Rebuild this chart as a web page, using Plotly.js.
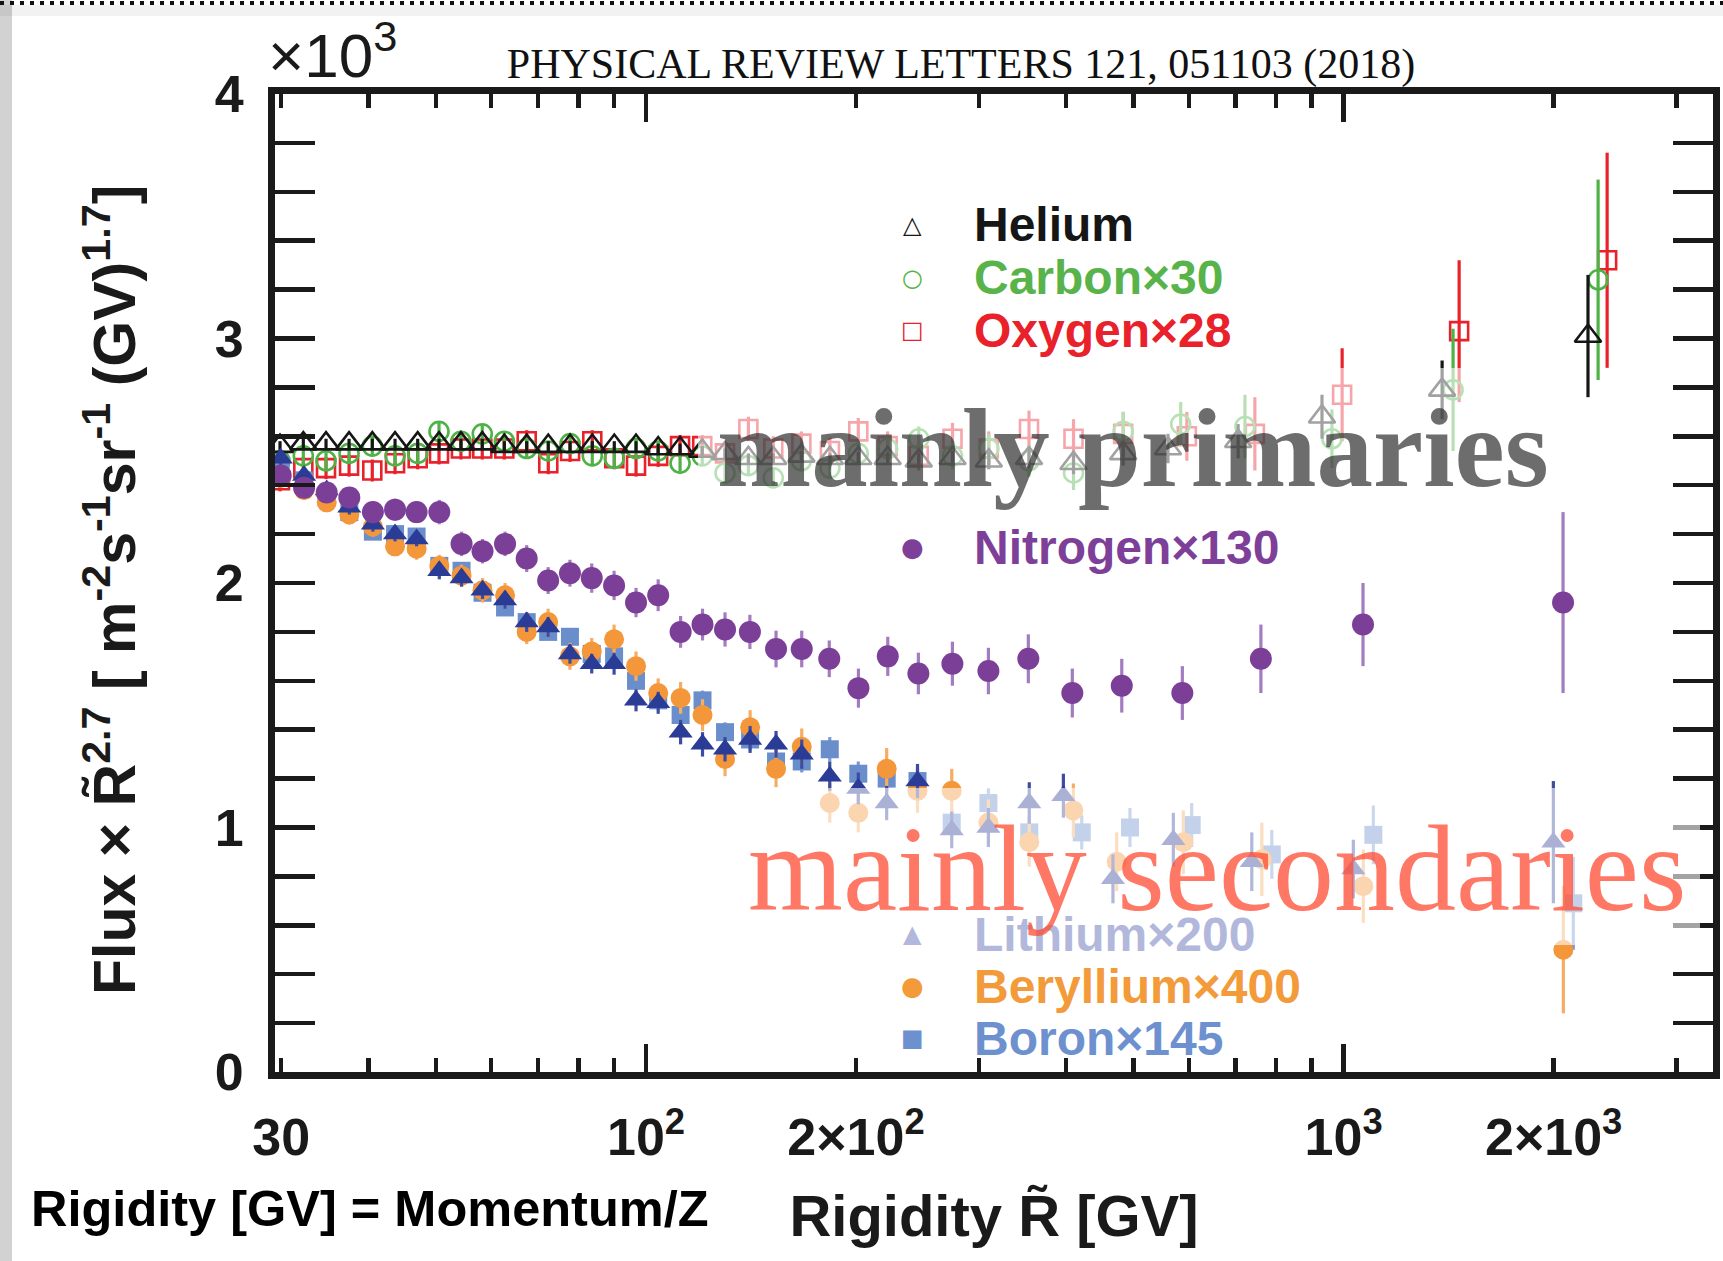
<!DOCTYPE html>
<html>
<head>
<meta charset="utf-8">
<script src="https://cdn.plot.ly/plotly-3.0.1.min.js"></script>
<style>
  html, body { margin: 0; padding: 0; background: #ffffff; }
  #chart { width: 1723px; height: 1261px; }
</style>
</head>
<body>
<div id="chart"></div>
<script>
// Flux x R^2.7 in units of 10^3, AMS rigidity spectra (PRL 121, 051103)

// Helium
const heliumR = [29.88, 32.27, 34.78, 37.53, 40.52, 43.68, 47.07, 50.50, 54.29, 58.25, 62.65, 67.45, 72.43, 77.83, 83.75, 90.06, 96.76, 104.1, 111.9, 120.4, 129.8, 140.2, 152.2, 167.0, 183.5, 201.5, 222.0, 246.0, 275.0, 310.0, 354.0, 410.0, 483.0, 560.0, 706.0, 931.0, 1384.0, 2240.0];
const heliumFlux = [2.56, 2.57, 2.57, 2.57, 2.57, 2.57, 2.57, 2.57, 2.57, 2.57, 2.56, 2.56, 2.56, 2.56, 2.56, 2.56, 2.56, 2.55, 2.55, 2.54, 2.53, 2.51, 2.51, 2.52, 2.51, 2.51, 2.51, 2.50, 2.51, 2.50, 2.51, 2.49, 2.53, 2.55, 2.58, 2.68, 2.79, 3.01];
const heliumErr = [0.02, 0.02, 0.02, 0.02, 0.02, 0.02, 0.02, 0.02, 0.02, 0.02, 0.02, 0.02, 0.02, 0.02, 0.02, 0.02, 0.02, 0.02, 0.02, 0.02, 0.02, 0.02, 0.02, 0.02, 0.02, 0.025, 0.025, 0.03, 0.03, 0.035, 0.04, 0.045, 0.05, 0.06, 0.07, 0.09, 0.12, 0.25];

// Carbon x30
const carbonR = [29.88, 32.27, 34.78, 37.53, 40.52, 43.68, 47.07, 50.50, 54.29, 58.25, 62.65, 67.45, 72.43, 77.83, 83.75, 90.06, 96.76, 104.1, 111.9, 120.4, 129.8, 140.2, 152.2, 167.0, 183.5, 201.5, 222.0, 246.0, 275.0, 310.0, 354.0, 410.0, 483.0, 584.0, 722.0, 962.0, 1435.0, 2316.0];
const carbonFlux = [2.50, 2.52, 2.50, 2.53, 2.56, 2.52, 2.53, 2.62, 2.58, 2.61, 2.58, 2.55, 2.54, 2.57, 2.52, 2.51, 2.55, 2.54, 2.49, 2.52, 2.45, 2.48, 2.43, 2.50, 2.47, 2.53, 2.55, 2.59, 2.52, 2.55, 2.50, 2.45, 2.62, 2.65, 2.64, 2.59, 2.79, 3.24];
const carbonErr = [0.035, 0.035, 0.035, 0.035, 0.035, 0.035, 0.035, 0.035, 0.035, 0.035, 0.035, 0.035, 0.035, 0.035, 0.035, 0.035, 0.035, 0.035, 0.035, 0.035, 0.035, 0.04, 0.04, 0.04, 0.045, 0.045, 0.05, 0.05, 0.055, 0.06, 0.065, 0.07, 0.08, 0.09, 0.13, 0.12, 0.25, 0.41];

// Oxygen x28
const oxygenR = [29.88, 32.27, 34.78, 37.53, 40.52, 43.68, 47.07, 50.50, 54.29, 58.25, 62.65, 67.45, 72.43, 77.83, 83.75, 90.06, 96.76, 104.1, 111.9, 120.4, 129.8, 140.2, 152.2, 167.0, 183.5, 201.5, 222.0, 246.0, 275.0, 310.0, 354.0, 410.0, 483.0, 596.0, 746.0, 995.0, 1464.0, 2386.0];
const oxygenFlux = [2.42, 2.47, 2.47, 2.48, 2.46, 2.49, 2.51, 2.53, 2.55, 2.55, 2.55, 2.58, 2.49, 2.54, 2.58, 2.51, 2.48, 2.52, 2.56, 2.56, 2.53, 2.63, 2.55, 2.57, 2.54, 2.62, 2.56, 2.52, 2.59, 2.55, 2.63, 2.59, 2.61, 2.60, 2.61, 2.77, 3.03, 3.32];
const oxygenErr = [0.045, 0.045, 0.045, 0.045, 0.045, 0.045, 0.045, 0.045, 0.045, 0.045, 0.045, 0.045, 0.045, 0.045, 0.045, 0.045, 0.045, 0.045, 0.045, 0.045, 0.045, 0.05, 0.05, 0.05, 0.055, 0.055, 0.06, 0.06, 0.065, 0.07, 0.075, 0.08, 0.09, 0.10, 0.15, 0.19, 0.29, 0.44];

// Nitrogen x130
const nitrogenR = [29.95, 32.35, 34.86, 37.56, 40.6, 43.68, 46.9, 50.55, 54.4, 58.3, 62.8, 67.45, 72.4, 77.8, 83.6, 90.0, 96.76, 104.1, 112.1, 120.5, 129.8, 140.9, 153.6, 167.2, 183.1, 201.6, 222.1, 245.7, 274.9, 309.6, 353.2, 408.4, 480.8, 587.2, 761.0, 1066.0, 2063.0];
const nitrogenFlux = [2.44, 2.39, 2.37, 2.35, 2.29, 2.30, 2.29, 2.29, 2.16, 2.13, 2.16, 2.10, 2.01, 2.04, 2.02, 1.99, 1.92, 1.95, 1.80, 1.83, 1.81, 1.80, 1.73, 1.73, 1.69, 1.57, 1.70, 1.63, 1.67, 1.64, 1.69, 1.55, 1.58, 1.55, 1.69, 1.83, 1.92];
const nitrogenErr = [0.04, 0.04, 0.04, 0.04, 0.045, 0.045, 0.045, 0.05, 0.05, 0.05, 0.05, 0.055, 0.055, 0.055, 0.06, 0.06, 0.06, 0.065, 0.065, 0.065, 0.07, 0.07, 0.075, 0.075, 0.075, 0.08, 0.08, 0.085, 0.09, 0.095, 0.10, 0.10, 0.11, 0.11, 0.14, 0.17, 0.37];

// Lithium x200
const lithiumR = [29.95, 32.35, 34.86, 37.56, 40.6, 43.68, 46.9, 50.55, 54.4, 58.3, 62.8, 67.45, 72.4, 77.8, 83.6, 90.0, 96.76, 104.1, 112.1, 120.5, 129.8, 141.0, 153.6, 167.2, 183.4, 201.5, 221.3, 245.0, 274.3, 309.6, 354.3, 396.5, 467.0, 570.0, 738.5, 1032.5, 1998.0];
const lithiumFlux = [2.51, 2.44, 2.38, 2.31, 2.24, 2.20, 2.18, 2.05, 2.02, 1.97, 1.93, 1.84, 1.82, 1.71, 1.67, 1.67, 1.52, 1.51, 1.39, 1.34, 1.32, 1.36, 1.34, 1.30, 1.21, 1.16, 1.10, 1.19, 0.99, 1.00, 1.10, 1.13, 0.79, 0.95, 0.86, 0.83, 0.94];
const lithiumErr = [0.03, 0.03, 0.03, 0.03, 0.03, 0.03, 0.03, 0.035, 0.035, 0.035, 0.035, 0.04, 0.04, 0.04, 0.04, 0.045, 0.045, 0.045, 0.05, 0.05, 0.05, 0.055, 0.055, 0.06, 0.06, 0.065, 0.07, 0.07, 0.075, 0.08, 0.085, 0.09, 0.10, 0.11, 0.12, 0.12, 0.25];

// Beryllium x400
const berylliumR = [29.95, 32.35, 34.86, 37.56, 40.6, 43.68, 46.9, 50.55, 54.4, 58.3, 62.8, 67.45, 72.4, 77.8, 83.6, 90.0, 96.76, 104.1, 112.1, 120.5, 129.8, 141.0, 153.6, 167.2, 183.4, 201.5, 221.3, 245.0, 274.3, 309.6, 354.3, 409.8, 472.8, 589.1, 763.3, 1067.0, 2065.0];
const berylliumFlux = [2.43, 2.38, 2.33, 2.28, 2.23, 2.15, 2.14, 2.07, 2.03, 1.97, 1.95, 1.80, 1.84, 1.70, 1.72, 1.77, 1.66, 1.55, 1.53, 1.46, 1.28, 1.41, 1.24, 1.33, 1.10, 1.06, 1.24, 1.15, 1.15, 1.02, 0.94, 1.07, 0.86, 0.94, 0.87, 0.76, 0.50];
const berylliumErr = [0.04, 0.04, 0.04, 0.04, 0.04, 0.04, 0.045, 0.045, 0.045, 0.05, 0.05, 0.05, 0.055, 0.055, 0.055, 0.06, 0.06, 0.06, 0.065, 0.065, 0.07, 0.07, 0.075, 0.075, 0.08, 0.08, 0.085, 0.09, 0.09, 0.095, 0.10, 0.11, 0.12, 0.13, 0.15, 0.15, 0.26];

// Boron x145
const boronR = [29.95, 32.35, 34.86, 37.56, 40.6, 43.68, 46.9, 50.55, 54.4, 58.3, 62.8, 67.45, 72.4, 77.8, 83.6, 90.0, 96.76, 104.1, 112.1, 120.5, 129.8, 141.0, 153.6, 167.2, 183.4, 201.5, 221.3, 245.0, 274.3, 309.6, 354.3, 421.3, 494.0, 605.6, 788.9, 1103.0, 2134.0];
const boronFlux = [2.48, 2.42, 2.35, 2.29, 2.21, 2.20, 2.19, 2.07, 2.05, 1.96, 1.90, 1.84, 1.80, 1.78, 1.71, 1.70, 1.60, 1.52, 1.46, 1.52, 1.39, 1.36, 1.27, 1.27, 1.32, 1.22, 1.20, 1.19, 1.02, 1.10, 0.98, 0.98, 1.00, 1.01, 0.89, 0.97, 0.69];
const boronErr = [0.025, 0.025, 0.025, 0.025, 0.025, 0.025, 0.025, 0.03, 0.03, 0.03, 0.03, 0.03, 0.03, 0.035, 0.035, 0.035, 0.035, 0.04, 0.04, 0.04, 0.04, 0.045, 0.045, 0.045, 0.05, 0.05, 0.05, 0.055, 0.055, 0.06, 0.065, 0.07, 0.08, 0.09, 0.10, 0.12, 0.19];

// Axis ticks and labels
const xTickVals = [30, 100, 200, 1000, 2000];
const xTickText = ['30', '10<sup>2</sup>', '2×10<sup>2</sup>', '10<sup>3</sup>', '2×10<sup>3</sup>'];
const xDecadeTicks = [100, 1000];
const yTickVals = [0, 1, 2, 3, 4];

// Legend entries: [glyph, label, colour]
const legendTop = [
  ['△', 'Helium', '#161616'],
  ['○', 'Carbon×30', '#58b34a'],
  ['□', 'Oxygen×28', '#e8212b']
];
const legendMid = [['●', 'Nitrogen×130', '#7d3f98']];
const legendBottom = [
  ['▲', 'Lithium×200', '#b2b8dc'],
  ['●', 'Beryllium×400', '#f39a3a'],
  ['■', 'Boron×145', '#6d90cf']
];

// ---------- geometry of the page ----------
const W = 1723, H = 1261;
const plotL = 275, plotR = 1713, plotT = 94, plotB = 1072;
const px = x => (x - plotL) / (plotR - plotL);
const py = y => (plotB - y) / (plotB - plotT);
const xRange = [Math.log10(29.39), Math.log10(3384)];
const ink = '#1a1a1a';
const sans = 'Liberation Sans, Arial, sans-serif';
const serif = 'Liberation Serif, Times New Roman, serif';

function series(R, F, E, symbol, size, color, errColor, open) {
  return {
    type: 'scatter', mode: 'markers', x: R, y: F,
    marker: {
      symbol: symbol, size: size, color: color,
      line: open ? { width: 2.6, color: color } : { width: 0 }
    },
    error_y: { type: 'data', array: E, visible: true, thickness: 3.2, width: 0, color: errColor },
    showlegend: false, hoverinfo: 'skip', cliponaxis: true
  };
}

const traces = [
  series(oxygenR, oxygenFlux, oxygenErr, 'square-open', 18, '#e8212b', '#e8212b', true),
  series(carbonR, carbonFlux, carbonErr, 'circle-open', 19, '#4fb246', '#4fb246', true),
  series(heliumR, heliumFlux, heliumErr, 'triangle-up-open', 23, '#161616', '#161616', true),
  series(boronR, boronFlux, boronErr, 'square', 18, '#6a8ecb', '#7b9bd3', false),
  series(berylliumR, berylliumFlux, berylliumErr, 'circle', 20, '#f4973a', '#f6ad63', false),
  series(lithiumR, lithiumFlux, lithiumErr, 'triangle-up', 21, '#2b3c96', '#3c4ca0', false),
  series(nitrogenR, nitrogenFlux, nitrogenErr, 'circle', 22, '#7c3f97', '#a27cbf', false),
  // carrier for the overlaid decade-tick axis
  { type: 'scatter', x: [], y: [], xaxis: 'x2', yaxis: 'y', showlegend: false, hoverinfo: 'skip' }
];

// ---------- annotations ----------
const annotations = [];

annotations.push({
  text: '×10<sup>3</sup>', xref: 'paper', yref: 'paper',
  x: px(266), y: py(92), xanchor: 'left', yanchor: 'bottom', showarrow: false,
  font: { family: sans, size: 62, color: ink }
});

function addLegend(rows, yStart, dy) {
  rows.forEach((r, i) => {
    const yy = yStart + i * dy;
    annotations.push({
      text: r[0], xref: 'paper', yref: 'paper', x: px(912), y: py(yy),
      xanchor: 'center', yanchor: 'middle', showarrow: false,
      font: { family: 'DejaVu Sans', size: r[0] === '●' ? 26 : 24, color: r[2] }
    });
    annotations.push({
      text: r[1], xref: 'paper', yref: 'paper', x: px(972), y: py(yy),
      xanchor: 'left', yanchor: 'middle', showarrow: false,
      font: { family: sans, size: 48, color: r[2], weight: 'bold' }
    });
  });
}
addLegend(legendTop, 225, 52.5);
addLegend(legendMid, 547, 0);
addLegend(legendBottom, 934, 52);

annotations.push({
  text: 'mainly primaries', xref: 'paper', yref: 'paper',
  x: px(1133), y: py(447), xanchor: 'center', yanchor: 'middle', showarrow: false,
  font: { family: serif, size: 113, color: 'rgba(40,40,40,0.68)', weight: 'bold' }
});
annotations.push({
  text: 'mainly secondaries', xref: 'paper', yref: 'paper',
  x: px(1217), y: py(868), xanchor: 'center', yanchor: 'middle', showarrow: false,
  font: { family: serif, size: 122, color: 'rgba(255,75,50,0.75)' }
});

annotations.push({
  text: 'Flux × R\u0303<sup>2.7</sup> [ m<sup>-2</sup>s<sup>-1</sup>sr<sup>-1</sup> (GV)<sup>1.7</sup>]',
  xref: 'paper', yref: 'paper', x: px(110), y: py(590), textangle: -90,
  xanchor: 'center', yanchor: 'middle', showarrow: false,
  font: { family: sans, size: 59, color: ink, weight: 'bold' }
});

annotations.push({
  text: 'Rigidity [GV] = Momentum/Z', xref: 'paper', yref: 'paper',
  x: px(29), y: py(1208), xanchor: 'left', yanchor: 'middle', showarrow: false,
  font: { family: sans, size: 50.5, color: '#000000', weight: 'bold' }
});

// ---------- shapes ----------
const shapes = [
  // translucent panels behind the two captions
  { type: 'rect', xref: 'paper', yref: 'paper', layer: 'above',
    x0: px(698), x1: px(1560), y0: py(520), y1: py(368),
    fillcolor: 'rgba(255,255,255,0.6)', line: { width: 0 } },
  { type: 'rect', xref: 'paper', yref: 'paper', layer: 'above',
    x0: px(745), x1: px(1700), y0: py(945), y1: py(788),
    fillcolor: 'rgba(255,255,255,0.6)', line: { width: 0 } },
  // slide frame: grey left strip and dotted top edge
  { type: 'rect', xref: 'paper', yref: 'paper', layer: 'below',
    x0: px(0), x1: px(12), y0: py(H), y1: py(0),
    fillcolor: '#d2d2d2', line: { width: 0 } },
  { type: 'rect', xref: 'paper', yref: 'paper', layer: 'below',
    x0: px(0), x1: px(W), y0: py(16), y1: py(5),
    fillcolor: 'rgba(0,0,0,0.05)', line: { width: 0 } },
  { type: 'line', xref: 'paper', yref: 'paper', layer: 'above',
    x0: px(0), x1: px(W), y0: py(3), y1: py(3),
    line: { color: '#111111', width: 4, dash: '4px,6px' } }
];

const layout = {
  width: W, height: H,
  margin: { l: plotL, r: W - plotR, t: plotT, b: H - plotB, pad: 0 },
  paper_bgcolor: '#ffffff', plot_bgcolor: '#ffffff',
  showlegend: false,
  title: {
    text: 'PHYSICAL REVIEW LETTERS 121, 051103 (2018)',
    xref: 'container', yref: 'container',
    x: 961 / W, xanchor: 'center', y: 1 - 63 / H, yanchor: 'middle',
    font: { family: serif, size: 42, color: '#111111' }
  },
  xaxis: {
    type: 'log', range: xRange,
    tickmode: 'array', tickvals: xTickVals, ticktext: xTickText,
    ticks: 'inside', ticklen: 14, tickwidth: 4.5, tickcolor: ink,
    minor: { dtick: 'D1', ticks: 'inside', ticklen: 14, tickwidth: 4.5, tickcolor: ink, showgrid: false },
    showline: true, linewidth: 7, linecolor: ink, mirror: 'allticks',
    showgrid: false, zeroline: false,
    ticklabelstandoff: 14,
    tickfont: { family: sans, size: 52, color: ink, weight: 'bold' },
    title: {
      text: 'Rigidity R\u0303 [GV]', standoff: 32,
      font: { family: sans, size: 58, color: ink, weight: 'bold' }
    }
  },
  xaxis2: {
    type: 'log', range: xRange, overlaying: 'x', anchor: 'y', side: 'bottom',
    tickmode: 'array', tickvals: xDecadeTicks,
    ticks: 'inside', ticklen: 28, tickwidth: 4.5, tickcolor: ink,
    showticklabels: false, showline: false, showgrid: false, zeroline: false,
    mirror: 'allticks'
  },
  yaxis: {
    range: [0, 4], tickmode: 'array', tickvals: yTickVals,
    ticks: 'inside', ticklen: 40, tickwidth: 4.5, tickcolor: ink,
    minor: { dtick: 0.2, ticks: 'inside', ticklen: 20, tickwidth: 4.5, tickcolor: ink, showgrid: false },
    showline: true, linewidth: 7, linecolor: ink, mirror: 'allticks',
    showgrid: false, zeroline: false,
    ticklabelstandoff: 14,
    tickfont: { family: sans, size: 52, color: ink, weight: 'bold' }
  },
  annotations: annotations,
  shapes: shapes
};

Plotly.newPlot('chart', traces, layout, { displayModeBar: false, staticPlot: true });
</script>
</body>
</html>
